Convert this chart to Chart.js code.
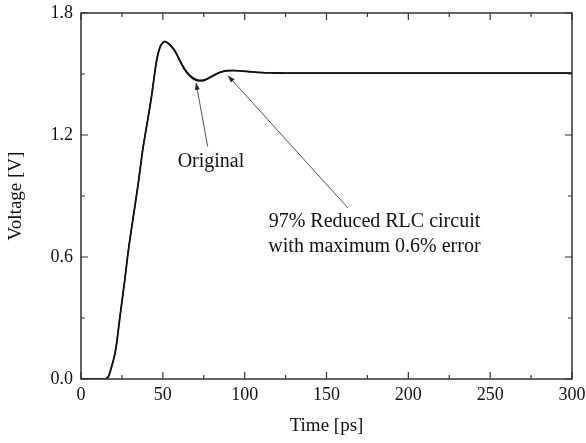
<!DOCTYPE html>
<html>
<head>
<meta charset="utf-8">
<script src="https://cdn.jsdelivr.net/npm/chart.js@4.4.0/dist/chart.umd.min.js"></script>
<style>
  html, body { margin: 0; padding: 0; background: #fff; }
  #wrap { width: 586px; height: 443px; }
</style>
</head>
<body>
<div id="wrap"><canvas id="chart"></canvas></div>
<script>
// datos
const timePs = [0, 10, 14.7, 16.7, 18.7, 21.2, 23.8, 26.5, 29, 32, 35, 37.6, 39.1, 41.1, 43.2, 44.8, 46.2, 48.3, 50, 51.3, 53, 55, 57.4, 60, 63.1, 66, 69.6, 72.5, 75.7, 79, 83, 86, 89, 93, 97, 103, 110, 118, 125, 150, 200, 250, 300];
const vOriginal = [0, 0, 0, 0.011, 0.06, 0.143, 0.306, 0.47, 0.635, 0.8, 0.962, 1.12, 1.195, 1.29, 1.395, 1.49, 1.565, 1.632, 1.653, 1.659, 1.652, 1.637, 1.612, 1.572, 1.525, 1.495, 1.472, 1.466, 1.47, 1.483, 1.5, 1.51, 1.516, 1.517, 1.515, 1.511, 1.507, 1.505, 1.504, 1.504, 1.504, 1.504, 1.504];
const vReduced = [0, 0, 0, 0.012, 0.062, 0.146, 0.309, 0.473, 0.638, 0.803, 0.965, 1.123, 1.198, 1.293, 1.398, 1.493, 1.567, 1.634, 1.654, 1.66, 1.653, 1.639, 1.615, 1.575, 1.529, 1.499, 1.476, 1.47, 1.473, 1.486, 1.503, 1.512, 1.517, 1.518, 1.516, 1.512, 1.508, 1.506, 1.504, 1.504, 1.504, 1.504, 1.504];

const xTicks = [0, 50, 100, 150, 200, 250, 300];
const xMinorTicks = [25, 75, 125, 175, 225, 275];
const yTicks = [0.0, 0.6, 1.2, 1.8];
const yMinorTicks = [0.3, 0.9, 1.5];

// anotaciones en unidades de datos
const labelOriginal = { text: 'Original', t: 79.4, v: 1.067 };
const arrowOriginal = { from: [77.4, 1.143], to: [70.3, 1.457] };
const labelReduced = { lines: ['97% Reduced RLC circuit', 'with maximum 0.6% error'], t: 179.3, v: [0.774, 0.651] };
const arrowReduced = { from: [163.1, 0.841], to: [89.8, 1.492] };

const SERIF = '"Liberation Serif", "DejaVu Serif", serif';

function arrow(ctx, x1, y1, x2, y2) {
    ctx.beginPath();
    ctx.moveTo(x1, y1);
    ctx.lineTo(x2, y2);
    ctx.stroke();
    const a = Math.atan2(y2 - y1, x2 - x1);
    const len = 7, w = 2.5;
    ctx.beginPath();
    ctx.moveTo(x2, y2);
    ctx.lineTo(x2 - len * Math.cos(a) + w * Math.sin(a), y2 - len * Math.sin(a) - w * Math.cos(a));
    ctx.lineTo(x2 - len * Math.cos(a) - w * Math.sin(a), y2 - len * Math.sin(a) + w * Math.cos(a));
    ctx.closePath();
    ctx.fill();
}

const framePlugin = {
    id: 'frame',
    afterDraw(chart) {
        const { ctx, chartArea: a, scales: { x, y } } = chart;
        ctx.save();
        ctx.strokeStyle = '#333';
        ctx.lineWidth = 1.5;
        ctx.strokeRect(a.left, a.top, a.right - a.left, a.bottom - a.top);

        // ticks hacia dentro, en los cuatro lados
        ctx.lineWidth = 1.2;
        ctx.beginPath();
        const tick = (vals, len) => {
            vals.forEach(v => {
                const px = x.getPixelForValue(v);
                ctx.moveTo(px, a.bottom); ctx.lineTo(px, a.bottom - len);
                ctx.moveTo(px, a.top); ctx.lineTo(px, a.top + len);
            });
        };
        const tickY = (vals, len) => {
            vals.forEach(v => {
                const py = y.getPixelForValue(v);
                ctx.moveTo(a.left, py); ctx.lineTo(a.left + len, py);
                ctx.moveTo(a.right, py); ctx.lineTo(a.right - len, py);
            });
        };
        tick(xTicks, 7); tick(xMinorTicks, 4);
        tickY(yTicks, 7); tickY(yMinorTicks, 4);
        ctx.stroke();

        // flechas y textos
        ctx.strokeStyle = '#555';
        ctx.fillStyle = '#222';
        ctx.lineWidth = 1;
        arrow(ctx, x.getPixelForValue(arrowOriginal.from[0]), y.getPixelForValue(arrowOriginal.from[1]),
            x.getPixelForValue(arrowOriginal.to[0]), y.getPixelForValue(arrowOriginal.to[1]));
        arrow(ctx, x.getPixelForValue(arrowReduced.from[0]), y.getPixelForValue(arrowReduced.from[1]),
            x.getPixelForValue(arrowReduced.to[0]), y.getPixelForValue(arrowReduced.to[1]));

        ctx.fillStyle = '#111';
        ctx.font = '20px ' + SERIF;
        ctx.textAlign = 'center';
        ctx.textBaseline = 'middle';
        ctx.fillText(labelOriginal.text, x.getPixelForValue(labelOriginal.t), y.getPixelForValue(labelOriginal.v));
        labelReduced.lines.forEach((line, i) => {
            ctx.fillText(line, x.getPixelForValue(labelReduced.t), y.getPixelForValue(labelReduced.v[i]));
        });
        ctx.restore();
    }
};

const toPoints = (vals) => timePs.map((t, i) => ({ x: t, y: vals[i] }));

new Chart(document.getElementById('chart'), {
    type: 'line',
    data: {
        datasets: [
            {
                label: 'Original',
                data: toPoints(vOriginal),
                borderColor: '#111',
                borderWidth: 1.8,
                pointRadius: 0,
                cubicInterpolationMode: 'monotone'
            },
            {
                label: '97% Reduced RLC circuit',
                data: toPoints(vReduced),
                borderColor: '#111',
                borderWidth: 1.2,
                pointRadius: 0,
                cubicInterpolationMode: 'monotone'
            }
        ]
    },
    options: {
        responsive: true,
        maintainAspectRatio: false,
        animation: false,
        layout: { padding: { top: 13, right: 14, left: 0, bottom: 0 } },
        plugins: {
            legend: { display: false },
            tooltip: { enabled: false }
        },
        scales: {
            x: {
                type: 'linear',
                min: 0,
                max: 300,
                afterBuildTicks: (s) => { s.ticks = xTicks.map(v => ({ value: v })); },
                afterFit: (s) => { s.height = 64; s.paddingLeft = 0; s.paddingRight = 0; },
                grid: { display: false, drawTicks: false },
                border: { display: false },
                ticks: {
                    color: '#111',
                    padding: 5,
                    font: { family: SERIF, size: 18 },
                    maxRotation: 0,
                    callback: (v) => String(v)
                },
                title: {
                    display: true,
                    text: 'Time [ps]',
                    color: '#111',
                    font: { family: SERIF, size: 19 },
                    padding: { top: 0, bottom: 6 }
                }
            },
            y: {
                type: 'linear',
                min: 0,
                max: 1.8,
                afterBuildTicks: (s) => { s.ticks = yTicks.map(v => ({ value: v })); },
                afterFit: (s) => { s.width = 81; s.paddingTop = 0; s.paddingBottom = 0; },
                grid: { display: false, drawTicks: false },
                border: { display: false },
                ticks: {
                    color: '#111',
                    padding: 8,
                    font: { family: SERIF, size: 18 },
                    callback: (v) => Number(v).toFixed(1)
                },
                title: {
                    display: true,
                    text: 'Voltage [V]',
                    color: '#111',
                    font: { family: SERIF, size: 19 },
                    padding: { top: 5, bottom: 0 }
                }
            }
        }
    },
    plugins: [framePlugin]
});
</script>
</body>
</html>
